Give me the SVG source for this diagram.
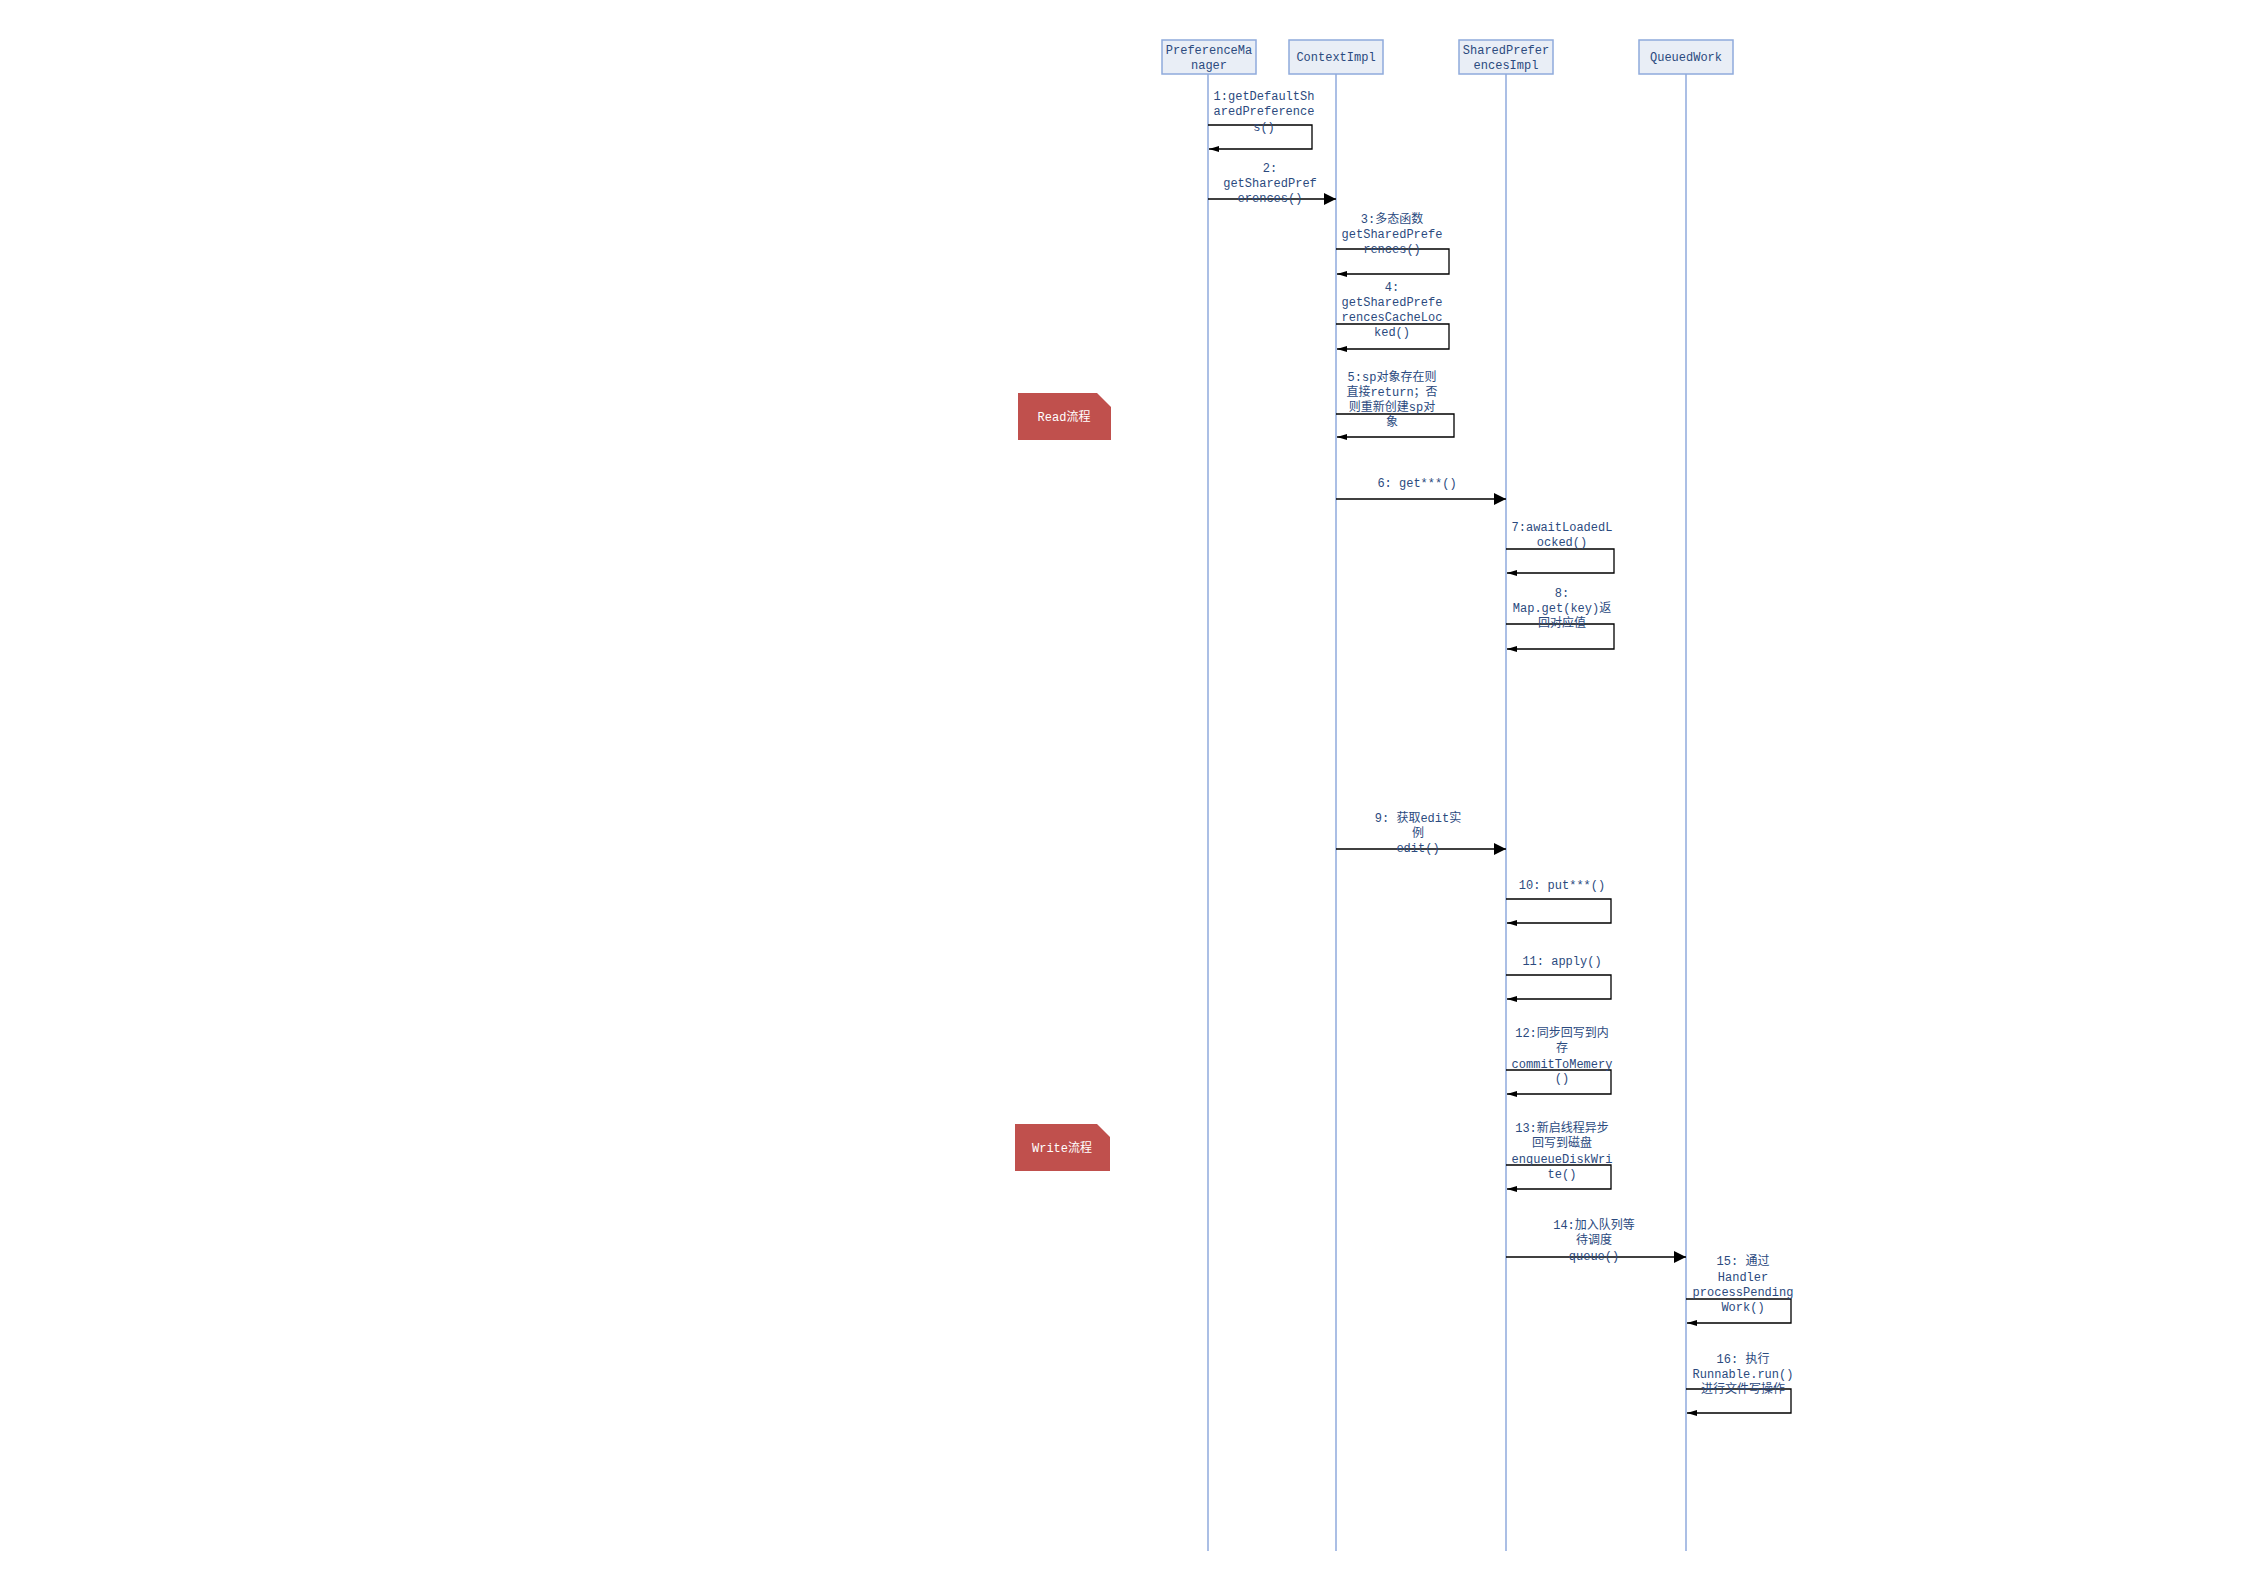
<svg xmlns="http://www.w3.org/2000/svg" width="2245" height="1587" viewBox="0 0 2245 1587">
<style>
.bg{fill:#ffffff}
.box{fill:#E9EEF6;stroke:#8FAADC;stroke-width:1.5}
.life{stroke:#8FAADC;stroke-width:1.5;fill:none}
.msg{stroke:#000000;stroke-width:1.3;fill:none}
.t{font-family:"Liberation Mono","Noto Sans CJK SC",monospace;font-size:12px;fill:#2B4A7E;text-anchor:middle}
.note{fill:#C0504D}
.nt{font-family:"Liberation Mono","Noto Sans CJK SC",monospace;font-size:12px;fill:#ffffff;text-anchor:middle}
</style>
<defs>
<marker id="call" markerUnits="userSpaceOnUse" markerWidth="13" markerHeight="13" refX="12" refY="6" orient="auto">
<path d="M0,0 L12,6 L0,12 z" fill="#000000"/>
</marker>
<marker id="ret" markerUnits="userSpaceOnUse" markerWidth="11" markerHeight="7" refX="10" refY="3" orient="auto">
<path d="M0,0 L10,3 L0,6 z" fill="#000000"/>
</marker>
</defs>
<rect class="bg" x="0" y="0" width="2245" height="1587"/>

<g id="read-note">
<path class="note" d="M1018,393 H1097 L1111,407 V440 H1018 z"/>
<text class="nt" x="1064" y="421">Read流程</text>
</g>
<g id="write-note">
<path class="note" d="M1015,1124 H1097 L1110,1137 V1171 H1015 z"/>
<text class="nt" x="1062" y="1152">Write流程</text>
</g>

<g id="PreferenceManager">
<line class="life" x1="1208" y1="74" x2="1208" y2="1551"/>
<rect class="box" x="1162" y="40" width="94" height="34"/>
<text class="t" x="1209" y="54">PreferenceMa</text>
<text class="t" x="1209" y="69">nager</text>
</g>
<g id="ContextImpl">
<line class="life" x1="1336" y1="74" x2="1336" y2="1551"/>
<rect class="box" x="1289" y="40" width="94" height="34"/>
<text class="t" x="1336" y="61">ContextImpl</text>
</g>
<g id="SharedPreferencesImpl">
<line class="life" x1="1506" y1="74" x2="1506" y2="1551"/>
<rect class="box" x="1459" y="40" width="94" height="34"/>
<text class="t" x="1506" y="54">SharedPrefer</text>
<text class="t" x="1506" y="69">encesImpl</text>
</g>
<g id="QueuedWork">
<line class="life" x1="1686" y1="74" x2="1686" y2="1551"/>
<rect class="box" x="1639" y="40" width="94" height="34"/>
<text class="t" x="1686" y="61">QueuedWork</text>
</g>

<g id="connectors">
<path class="msg" d="M1208,125 H1312 V149 H1209" marker-end="url(#ret)"/>
<line class="msg" x1="1208" y1="199" x2="1336" y2="199" marker-end="url(#call)"/>
<path class="msg" d="M1336,249 H1449 V274 H1337" marker-end="url(#ret)"/>
<path class="msg" d="M1336,324 H1449 V349 H1337" marker-end="url(#ret)"/>
<path class="msg" d="M1336,414 H1454 V437 H1337" marker-end="url(#ret)"/>
<line class="msg" x1="1336" y1="499" x2="1506" y2="499" marker-end="url(#call)"/>
<path class="msg" d="M1506,549 H1614 V573 H1507" marker-end="url(#ret)"/>
<path class="msg" d="M1506,624 H1614 V649 H1507" marker-end="url(#ret)"/>
<line class="msg" x1="1336" y1="849" x2="1506" y2="849" marker-end="url(#call)"/>
<path class="msg" d="M1506,899 H1611 V923 H1507" marker-end="url(#ret)"/>
<path class="msg" d="M1506,975 H1611 V999 H1507" marker-end="url(#ret)"/>
<path class="msg" d="M1506,1070 H1611 V1094 H1507" marker-end="url(#ret)"/>
<path class="msg" d="M1506,1165 H1611 V1189 H1507" marker-end="url(#ret)"/>
<line class="msg" x1="1506" y1="1257" x2="1686" y2="1257" marker-end="url(#call)"/>
<path class="msg" d="M1686,1299 H1791 V1323 H1687" marker-end="url(#ret)"/>
<path class="msg" d="M1686,1389 H1791 V1413 H1687" marker-end="url(#ret)"/>
</g>

<g id="labels">
<text class="t" x="1264" y="100">1:getDefaultSh</text>
<text class="t" x="1264" y="115">aredPreference</text>
<text class="t" x="1264" y="131">s()</text>

<text class="t" x="1270" y="172">2:</text>
<text class="t" x="1270" y="187">getSharedPref</text>
<text class="t" x="1270" y="202">erences()</text>

<text class="t" x="1392" y="223">3:多态函数</text>
<text class="t" x="1392" y="238">getSharedPrefe</text>
<text class="t" x="1392" y="253">rences()</text>

<text class="t" x="1392" y="291">4:</text>
<text class="t" x="1392" y="306">getSharedPrefe</text>
<text class="t" x="1392" y="321">rencesCacheLoc</text>
<text class="t" x="1392" y="336">ked()</text>

<text class="t" x="1392" y="381">5:sp对象存在则</text>
<text class="t" x="1392" y="396">直接return；否</text>
<text class="t" x="1392" y="411">则重新创建sp对</text>
<text class="t" x="1392" y="426">象</text>

<text class="t" x="1417" y="487">6: get***()</text>

<text class="t" x="1562" y="531">7:awaitLoadedL</text>
<text class="t" x="1562" y="546">ocked()</text>

<text class="t" x="1562" y="597">8:</text>
<text class="t" x="1562" y="612">Map.get(key)返</text>
<text class="t" x="1562" y="627">回对应值</text>

<text class="t" x="1418" y="822">9: 获取edit实</text>
<text class="t" x="1418" y="837">例</text>
<text class="t" x="1418" y="852">edit()</text>

<text class="t" x="1562" y="889">10: put***()</text>

<text class="t" x="1562" y="965">11: apply()</text>

<text class="t" x="1562" y="1037">12:同步回写到内</text>
<text class="t" x="1562" y="1052">存</text>
<text class="t" x="1562" y="1068">commitToMemery</text>
<text class="t" x="1562" y="1082">()</text>

<text class="t" x="1562" y="1132">13:新启线程异步</text>
<text class="t" x="1562" y="1147">回写到磁盘</text>
<text class="t" x="1562" y="1163">enqueueDiskWri</text>
<text class="t" x="1562" y="1178">te()</text>

<text class="t" x="1594" y="1229">14:加入队列等</text>
<text class="t" x="1594" y="1244">待调度</text>
<text class="t" x="1594" y="1260">queue()</text>

<text class="t" x="1743" y="1265">15: 通过</text>
<text class="t" x="1743" y="1281">Handler</text>
<text class="t" x="1743" y="1296">processPending</text>
<text class="t" x="1743" y="1311">Work()</text>

<text class="t" x="1743" y="1363">16: 执行</text>
<text class="t" x="1743" y="1378">Runnable.run()</text>
<text class="t" x="1743" y="1393">进行文件写操作</text>
</g>
</svg>
